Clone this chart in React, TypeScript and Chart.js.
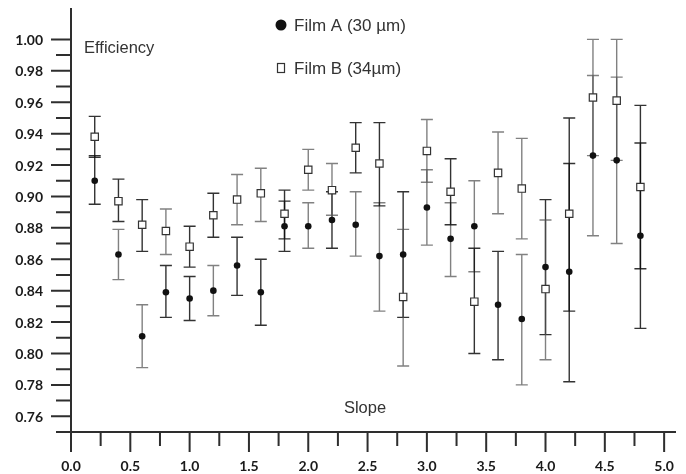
import React, { useEffect, useRef } from 'react';
import { Chart, registerables } from 'chart.js';

Chart.register(...registerables);

// ---- data ----
const slopes = [0.2, 0.4, 0.6, 0.8, 1.0, 1.2, 1.4, 1.6, 1.8, 2.0, 2.2, 2.4, 2.6, 2.8, 3.0, 3.2, 3.4, 3.6, 3.8, 4.0, 4.2, 4.4, 4.6, 4.8];

const filmA = [0.910, 0.863, 0.811, 0.839, 0.835, 0.840, 0.856, 0.839, 0.881, 0.881, 0.885, 0.882, 0.862, 0.863, 0.893, 0.873, 0.881, 0.831, 0.822, 0.855, 0.852, 0.926, 0.923, 0.875];
const filmALow = [0.895, 0.847, 0.791, 0.823, 0.821, 0.824, 0.837, 0.818, 0.865, 0.867, 0.867, 0.862, 0.827, 0.823, 0.869, 0.849, 0.852, 0.796, 0.780, 0.812, 0.782, 0.875, 0.870, 0.816];
const filmAHigh = [0.926, 0.879, 0.831, 0.856, 0.849, 0.856, 0.874, 0.860, 0.897, 0.896, 0.903, 0.903, 0.896, 0.903, 0.917, 0.896, 0.910, 0.865, 0.863, 0.898, 0.921, 0.977, 0.976, 0.934];

const filmB = [0.938, 0.897, 0.882, 0.878, 0.868, 0.888, 0.898, 0.902, 0.889, 0.917, 0.904, 0.931, 0.921, 0.836, 0.929, 0.903, 0.833, 0.915, 0.905, 0.841, 0.889, 0.963, 0.961, 0.906];
const filmBLow = [0.925, 0.884, 0.865, 0.863, 0.855, 0.874, 0.882, 0.884, 0.873, 0.904, 0.888, 0.915, 0.894, 0.792, 0.909, 0.882, 0.800, 0.889, 0.873, 0.796, 0.827, 0.926, 0.923, 0.854];
const filmBHigh = [0.951, 0.911, 0.898, 0.892, 0.881, 0.902, 0.914, 0.918, 0.904, 0.930, 0.921, 0.947, 0.947, 0.879, 0.949, 0.924, 0.867, 0.941, 0.937, 0.885, 0.950, 1.000, 1.000, 0.958];

const seriesNames = ['Film A (30 µm)', 'Film B (34µm)'];
const xTickLabels = ['0.0', '0.5', '1.0', '1.5', '2.0', '2.5', '3.0', '3.5', '4.0', '4.5', '5.0'];
const yTickLabels = ['0.76', '0.78', '0.80', '0.82', '0.84', '0.86', '0.88', '0.90', '0.92', '0.94', '0.96', '0.98', '1.00'];
const yAxisTitle = 'Efficiency';
const xAxisTitle = 'Slope';

// ---- styling ----
const barToneA = ['d', 'g', 'g', 'd', 'd', 'g', 'd', 'd', 'd', 'g', 'd', 'g', 'g', 'd', 'g', 'g', 'g', 'd', 'g', 'd', 'd', 'g', 'g', 'd'];
const barToneB = ['d', 'd', 'd', 'g', 'd', 'd', 'g', 'g', 'd', 'g', 'g', 'd', 'd', 'g', 'g', 'd', 'd', 'g', 'g', 'g', 'd', 'g', 'g', 'd'];
const TONES: Record<string, string> = {
  g: 'rgba(80,80,80,0.72)',
  d: 'rgba(15,15,15,0.85)',
};

const AXIS_COLOR = '#2e2e2e';
const LABEL_FONT = 'bold 14px Lato, "Open Sans", sans-serif';
const TEXT_FONT = '16.5px "Liberation Sans", Arial, sans-serif';
const LEGEND_FONT = '17px "Liberation Sans", Arial, sans-serif';

const errorBarPlugin = {
  id: 'errorBars',
  beforeDatasetsDraw(chart: any) {
    const { ctx, scales } = chart;
    const x = scales.x;
    const y = scales.y;
    const series = [
      { low: filmALow, high: filmAHigh, tone: barToneA },
      { low: filmBLow, high: filmBHigh, tone: barToneB },
    ];
    ctx.save();
    ctx.lineWidth = 1.4;
    const cap = 6;
    series.forEach((s) => {
      slopes.forEach((sv, i) => {
        const px = x.getPixelForValue(sv);
        const yl = y.getPixelForValue(s.low[i]);
        const yh = y.getPixelForValue(s.high[i]);
        ctx.strokeStyle = TONES[s.tone[i]];
        ctx.beginPath();
        ctx.moveTo(px, yl);
        ctx.lineTo(px, yh);
        ctx.moveTo(px - cap, yl);
        ctx.lineTo(px + cap, yl);
        ctx.moveTo(px - cap, yh);
        ctx.lineTo(px + cap, yh);
        ctx.stroke();
      });
    });
    ctx.restore();
  },
};

const axesPlugin = {
  id: 'customAxes',
  afterDraw(chart: any) {
    const { ctx, scales, chartArea } = chart;
    const x = scales.x;
    const y = scales.y;
    const x0 = x.getPixelForValue(0);
    const yBottom = chartArea.bottom;
    ctx.save();
    ctx.strokeStyle = AXIS_COLOR;
    ctx.lineWidth = 2;
    // axis lines
    ctx.beginPath();
    ctx.moveTo(x0, chartArea.top);
    ctx.lineTo(x0, yBottom + 1);
    ctx.moveTo(x0, yBottom);
    ctx.lineTo(chartArea.right, yBottom);
    ctx.stroke();

    // y ticks (minor every 0.01, major every 0.02)
    const yMajor = yTickLabels.map((t) => parseFloat(t));
    const yMinor: number[] = [];
    for (let k = 0; k < yMajor.length; k++) {
      yMinor.push(+(yMajor[k] - 0.01).toFixed(2));
    }
    ctx.beginPath();
    yMinor.forEach((v) => {
      const py = y.getPixelForValue(v);
      ctx.moveTo(x0 - 15, py);
      ctx.lineTo(x0, py);
    });
    yMajor.forEach((v) => {
      const py = y.getPixelForValue(v);
      ctx.moveTo(x0 - 20, py);
      ctx.lineTo(x0, py);
    });
    // x ticks (minor every 0.25, major every 0.5)
    const xMajor = xTickLabels.map((t) => parseFloat(t));
    xMajor.forEach((v, k) => {
      const px = x.getPixelForValue(v);
      ctx.moveTo(px, yBottom);
      ctx.lineTo(px, yBottom + 20);
      if (k < xMajor.length - 1) {
        const pm = x.getPixelForValue(v + 0.25);
        ctx.moveTo(pm, yBottom);
        ctx.lineTo(pm, yBottom + 14);
      }
    });
    ctx.stroke();

    // tick labels
    ctx.fillStyle = '#1a1a1a';
    ctx.font = LABEL_FONT;
    ctx.textAlign = 'right';
    ctx.textBaseline = 'middle';
    yTickLabels.forEach((t) => {
      ctx.fillText(t, x0 - 28, y.getPixelForValue(parseFloat(t)) + 1);
    });
    ctx.textAlign = 'center';
    xTickLabels.forEach((t) => {
      ctx.fillText(t, x.getPixelForValue(parseFloat(t)), yBottom + 34);
    });

    // axis titles inside the plot
    ctx.fillStyle = '#333333';
    ctx.font = TEXT_FONT;
    ctx.textAlign = 'left';
    ctx.fillText(yAxisTitle, x0 + 13, 48);
    ctx.textAlign = 'center';
    ctx.fillText(xAxisTitle, 365, 408);

    // legend
    ctx.font = LEGEND_FONT;
    ctx.textAlign = 'left';
    ctx.fillStyle = '#111111';
    ctx.beginPath();
    ctx.arc(281, 25, 5.5, 0, Math.PI * 2);
    ctx.fill();
    ctx.strokeStyle = '#333333';
    ctx.lineWidth = 1.2;
    ctx.fillStyle = '#ffffff';
    ctx.fillRect(277.5, 63.5, 7, 9);
    ctx.strokeRect(277.5, 63.5, 7, 9);
    ctx.fillStyle = '#333333';
    ctx.fillText(chart.data.datasets[0].label, 294, 26);
    ctx.fillText(chart.data.datasets[1].label, 294, 69.5);
    ctx.restore();
  },
};

export default function App() {
  const canvasRef = useRef<HTMLCanvasElement | null>(null);

  useEffect(() => {
    if (!canvasRef.current) return;
    const chart = new Chart(canvasRef.current, {
      type: 'scatter',
      data: {
        datasets: [
          {
            label: seriesNames[0],
            data: slopes.map((s, i) => ({ x: s, y: filmA[i] })),
            pointStyle: 'circle',
            pointRadius: 3.3,
            backgroundColor: '#111111',
            borderWidth: 0,
            showLine: false,
          },
          {
            label: seriesNames[1],
            data: slopes.map((s, i) => ({ x: s, y: filmB[i] })),
            pointStyle: 'rect',
            pointRadius: 5.2,
            backgroundColor: '#ffffff',
            borderColor: '#333333',
            borderWidth: 1.2,
            showLine: false,
          },
        ],
      },
      options: {
        animation: false,
        responsive: false,
        events: [],
        layout: { padding: { left: 71, right: 10, top: 8, bottom: 42 } },
        scales: {
          x: { type: 'linear', display: false, min: 0, max: 5.1 },
          y: { type: 'linear', display: false, min: 0.75, max: 1.02 },
        },
        plugins: {
          legend: { display: false },
          tooltip: { enabled: false },
        },
      },
      plugins: [errorBarPlugin, axesPlugin],
    });
    return () => chart.destroy();
  }, []);

  return (
    <div style={{ position: 'absolute', left: 0, top: 0, width: 686, height: 474, background: '#ffffff' }}>
      <canvas ref={canvasRef} width={686} height={474} />
    </div>
  );
}
